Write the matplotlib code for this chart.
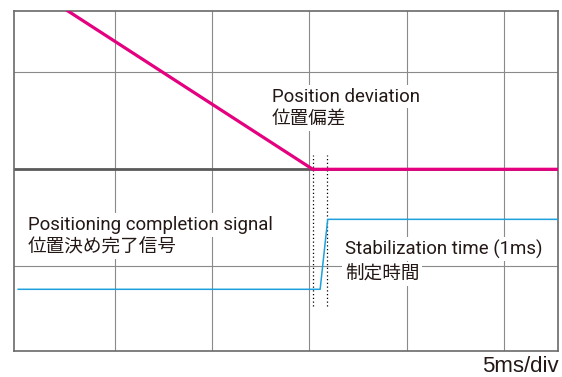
import matplotlib
matplotlib.use("Agg")
import matplotlib.pyplot as plt

# time axis in ms (5 ms per division), vertical axis in divisions
deviation_t = [0, 15.17, 28]
deviation_y = [1.96, 0, 0]

signal_t = [0, 15.55, 15.94, 28]
signal_y = [-1.235, -1.235, -0.515, -0.515]

marker_t = [15.17, 15.9]
marker_y = [-1.41, 0.147]

grid_x = [5, 10, 15, 20, 25]
grid_y = [-1, 0, 1]

label_deviation = ["Position deviation", "位置偏差"]
label_signal = ["Positioning completion signal", "位置決め完了信号"]
label_stab = ["Stabilization time (1ms)", "制定時間"]
scale_label = "5ms/div"

FONT = ["Roboto", "Noto Sans CJK JP"]
MAGENTA = "#e4007f"
BLUE = "#1ea0dc"
INK = "#231815"


def main():
    plt.rcParams["font.family"] = FONT

    W, H = 562, 377
    fig = plt.figure(figsize=(W / 100, H / 100), dpi=100)
    ax = fig.add_axes([13.7 / W, (H - 351) / H, (558 - 13.7) / W, (351 - 11) / H])

    ax.set_xlim(-0.232, 27.8)
    ax.set_ylim(-1.87, 1.629)
    ax.set_xticks(grid_x)
    ax.set_yticks(grid_y)
    ax.tick_params(length=0, labelbottom=False, labelleft=False)
    ax.grid(True, color="#8a8a8a", lw=0.8, zorder=0)
    ax.set_axisbelow(True)
    for sp in ax.spines.values():
        sp.set_color("#6a6a6a")
        sp.set_linewidth(1.2)

    # centre line
    ax.axhline(0, color="#5a5a5a", lw=2.0, zorder=1)

    ax.plot(deviation_t, deviation_y, color=MAGENTA, lw=2.3, zorder=4,
            solid_capstyle="butt")
    ax.plot(signal_t, signal_y, color=BLUE, lw=1.1, zorder=4)
    for t in marker_t:
        ax.plot([t, t], marker_y, color="black", lw=0.9, ls=(0, (1, 2)), zorder=3)

    box = dict(boxstyle="square,pad=0.15", fc="white", ec="none")
    fs = 13.4
    kw = dict(fontsize=fs, va="baseline", bbox=box, zorder=2, color=INK)

    ax.text(13.05, 0.696, label_deviation[0], **kw)
    ax.text(13.05, 0.461, label_deviation[1], **kw)

    ax.text(0.49, -0.624, label_signal[0], **kw)
    ax.text(0.49, -0.856, label_signal[1], **kw)

    ax.text(16.84, -0.875, label_stab[0], **kw)
    ax.text(16.84, -1.129, label_stab[1], **kw)

    fig.text(559 / W, 1 - 371.5 / H, scale_label, fontsize=16, ha="right",
             va="baseline", color=INK, family=["Liberation Sans", "DejaVu Sans"])

    fig.savefig("out.png", dpi=100)


if __name__ == "__main__":
    main()
